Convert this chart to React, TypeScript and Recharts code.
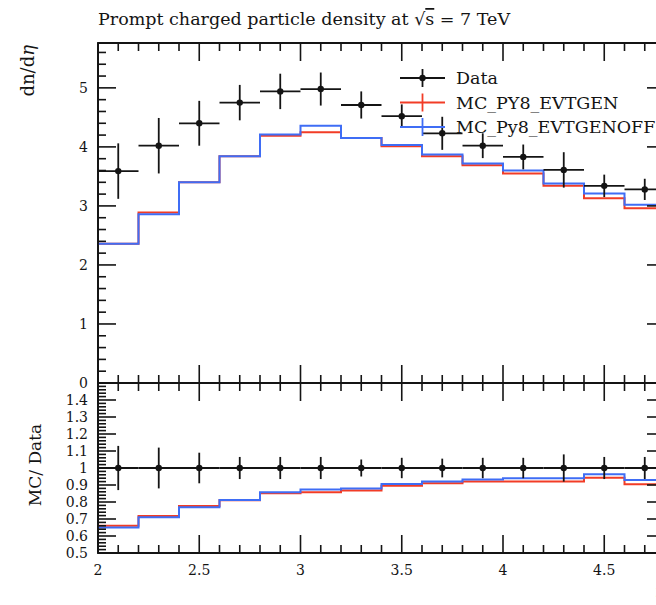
import React from "react";
import { ComposedChart, Line, Scatter, ErrorBar, XAxis, YAxis, ReferenceArea } from "recharts";

// eta binning
const binEdges = [2.0, 2.2, 2.4, 2.6, 2.8, 3.0, 3.2, 3.4, 3.6, 3.8, 4.0, 4.2, 4.4, 4.6, 4.8];
const binCentres = [2.1, 2.3, 2.5, 2.7, 2.9, 3.1, 3.3, 3.5, 3.7, 3.9, 4.1, 4.3, 4.5, 4.7];

// main panel: dn/deta
const dataValues = [3.59, 4.02, 4.4, 4.75, 4.94, 4.98, 4.71, 4.52, 4.23, 4.02, 3.83, 3.61, 3.34, 3.28];
const dataErrors = [0.47, 0.47, 0.38, 0.3, 0.3, 0.28, 0.23, 0.2, 0.28, 0.21, 0.21, 0.3, 0.19, 0.18];
const mcEvtgen = [2.36, 2.89, 3.4, 3.84, 4.19, 4.25, 4.15, 4.01, 3.84, 3.69, 3.55, 3.34, 3.13, 2.96];
const mcEvtgenOff = [2.36, 2.86, 3.4, 3.84, 4.21, 4.36, 4.15, 4.03, 3.87, 3.72, 3.6, 3.38, 3.21, 3.02];

// ratio panel: MC/Data
const ratioDataErrors = [0.13, 0.12, 0.09, 0.065, 0.065, 0.065, 0.05, 0.06, 0.055, 0.06, 0.06, 0.08, 0.065, 0.065];
const ratioEvtgen = [0.66, 0.718, 0.776, 0.81, 0.851, 0.857, 0.867, 0.896, 0.91, 0.92, 0.921, 0.921, 0.943, 0.904];
const ratioEvtgenOff = [0.65, 0.71, 0.769, 0.812, 0.857, 0.873, 0.88, 0.906, 0.921, 0.932, 0.94, 0.94, 0.963, 0.93];

// ticks
const xMajor = [2, 2.5, 3, 3.5, 4, 4.5];
const xTickLabels = ["2", "2.5", "3", "3.5", "4", "4.5"];
const yMainMajor = [0, 1, 2, 3, 4, 5];
const yMainLabels = ["0", "1", "2", "3", "4", "5"];
const yRatioMajor = [0.5, 0.6, 0.7, 0.8, 0.9, 1.0, 1.1, 1.2, 1.3, 1.4, 1.5];
const yRatioLabels = ["0.5", "0.6", "0.7", "0.8", "0.9", "1", "1.1", "1.2", "1.3", "1.4", ""];

const INK = "#141414";
const RED = "#f23c26";
const BLUE = "#3f6df5";
const FONT = "'DejaVu Serif', 'Liberation Serif', serif";

const legendItems = [
  { label: "Data", color: INK, dot: true },
  { label: "MC_PY8_EVTGEN", color: RED, dot: false },
  { label: "MC_Py8_EVTGENOFF", color: BLUE, dot: false },
];

const steps = (from: number, to: number, step: number) => {
  const out: number[] = [];
  for (let v = from; v <= to + 1e-9; v += step) out.push(Math.round(v * 1000) / 1000);
  return out;
};
const xMinor = steps(2, 4.8, 0.1);
const yMainMinor = steps(0, 5.6, 0.2);
const yRatioMinor = steps(0.5, 1.5, 0.02);

const stepRows = binEdges.map((x, i) => {
  const j = Math.min(i, mcEvtgen.length - 1);
  return { x, evtgen: mcEvtgen[j], evtgenOff: mcEvtgenOff[j] };
});
const ratioStepRows = binEdges.map((x, i) => {
  const j = Math.min(i, ratioEvtgen.length - 1);
  return { x, evtgen: ratioEvtgen[j], evtgenOff: ratioEvtgenOff[j] };
});
const dataRows = binCentres.map((x, i) => ({ x, y: dataValues[i], yErr: dataErrors[i], xErr: 0.1 }));
const ratioDataRows = binCentres.map((x, i) => ({ x, y: 1, yErr: ratioDataErrors[i], xErr: 0.1 }));

type Side = "left" | "right" | "top" | "bottom";

// inward ticks, Rivet style; labels only on major ticks
function makeTick(side: Side, major: number[], labels?: string[]) {
  return (p: any) => {
    const v = p.payload.value;
    const idx = major.findIndex((m) => Math.abs(m - v) < 1e-6);
    const len = idx >= 0 ? 18 : 8;
    const { x, y } = p;
    let line;
    if (side === "left") line = <line x1={x} x2={x + len} y1={y} y2={y} />;
    else if (side === "right") line = <line x1={x} x2={x - len} y1={y} y2={y} />;
    else if (side === "top") line = <line x1={x} x2={x} y1={y} y2={y + len} />;
    else line = <line x1={x} x2={x} y1={y} y2={y - len} />;
    const text = labels && idx >= 0 ? labels[idx] : "";
    return (
      <g stroke={INK} strokeWidth={1.6}>
        {line}
        {text && side === "left" && (
          <text x={x - 10} y={y} dy="0.35em" textAnchor="end" stroke="none" fill={INK} fontSize={14} fontFamily={FONT}>
            {text}
          </text>
        )}
        {text && side === "bottom" && (
          <text x={x} y={y + 22} textAnchor="middle" stroke="none" fill={INK} fontSize={14} fontFamily={FONT}>
            {text}
          </text>
        )}
      </g>
    );
  };
}

const axisLine = { stroke: INK, strokeWidth: 1.8 };

// frame: four axes carrying inward ticks, plus a box around the plot
function Frame({ yDomain, yTicks, yMajor, yLabels, xLabels }: any) {
  return [
    <XAxis key="xb" xAxisId="b" dataKey="x" type="number" domain={[2, 4.8]} allowDataOverflow ticks={xMinor}
      interval={0} tickSize={0} tickMargin={0} tickLine={false} height={1} axisLine={axisLine}
      tick={makeTick("bottom", xMajor, xLabels)} />,
    <XAxis key="xt" xAxisId="t" orientation="top" dataKey="x" type="number" domain={[2, 4.8]} allowDataOverflow
      ticks={xMinor} interval={0} tickSize={0} tickMargin={0} tickLine={false} height={1} axisLine={axisLine}
      tick={makeTick("top", xMajor)} />,
    <YAxis key="yl" yAxisId="l" type="number" domain={yDomain} allowDataOverflow ticks={yTicks} interval={0}
      tickSize={0} tickMargin={0} tickLine={false} width={40} axisLine={axisLine}
      tick={makeTick("left", yMajor, yLabels)} />,
    <YAxis key="yr" yAxisId="r" orientation="right" type="number" domain={yDomain} allowDataOverflow ticks={yTicks}
      interval={0} tickSize={0} tickMargin={0} tickLine={false} width={1} axisLine={axisLine}
      tick={makeTick("right", yMajor)} />,
    <ReferenceArea key="box" xAxisId="b" yAxisId="l" x1={2} x2={4.8} y1={yDomain[0]} y2={yDomain[1]}
      fill="none" fillOpacity={0} stroke={INK} strokeWidth={1.8} />,
  ];
}

const dataDot = (p: any) => <circle cx={p.cx} cy={p.cy} r={3.2} fill={INK} />;

export default function App() {
  return (
    <div style={{ position: "fixed", left: 0, top: 0, width: 656, height: 605, overflow: "hidden", background: "#fff" }}>
      <div style={{ position: "absolute", left: 0, top: 0 }}>
        <ComposedChart width={720} height={400} margin={{ top: 42, right: 54, bottom: 16, left: 58 }}>
          {Frame({ yDomain: [0, 5.76], yTicks: yMainMinor, yMajor: yMainMajor, yLabels: yMainLabels })}
          <Line xAxisId="b" yAxisId="l" data={stepRows} dataKey="evtgen" type="stepAfter" stroke={RED}
            strokeWidth={2} dot={false} isAnimationActive={false} />
          <Line xAxisId="b" yAxisId="l" data={stepRows} dataKey="evtgenOff" type="stepAfter" stroke={BLUE}
            strokeWidth={2} dot={false} isAnimationActive={false} />
          <Scatter xAxisId="b" yAxisId="l" data={dataRows} dataKey="y" shape={dataDot} isAnimationActive={false}>
            <ErrorBar dataKey="yErr" direction="y" width={0} stroke={INK} strokeWidth={1.8} />
            <ErrorBar dataKey="xErr" direction="x" width={0} stroke={INK} strokeWidth={1.8} />
          </Scatter>
        </ComposedChart>
      </div>
      <div style={{ position: "absolute", left: 0, top: 370 }}>
        <ComposedChart width={720} height={235} margin={{ top: 12, right: 54, bottom: 51, left: 58 }}>
          {Frame({ yDomain: [0.5, 1.5], yTicks: yRatioMinor, yMajor: yRatioMajor, yLabels: yRatioLabels, xLabels: xTickLabels })}
          <Line xAxisId="b" yAxisId="l" data={ratioStepRows} dataKey="evtgen" type="stepAfter" stroke={RED}
            strokeWidth={2} dot={false} isAnimationActive={false} />
          <Line xAxisId="b" yAxisId="l" data={ratioStepRows} dataKey="evtgenOff" type="stepAfter" stroke={BLUE}
            strokeWidth={2} dot={false} isAnimationActive={false} />
          <Scatter xAxisId="b" yAxisId="l" data={ratioDataRows} dataKey="y" shape={dataDot} isAnimationActive={false}>
            <ErrorBar dataKey="yErr" direction="y" width={0} stroke={INK} strokeWidth={1.8} />
            <ErrorBar dataKey="xErr" direction="x" width={0} stroke={INK} strokeWidth={1.8} />
          </Scatter>
        </ComposedChart>
      </div>
      <svg width={720} height={605} style={{ position: "absolute", left: 0, top: 0, pointerEvents: "none" }}
        fontFamily={FONT} fill={INK}>
        <text x={98} y={25} fontSize={17.5}>
          Prompt charged particle density at √<tspan style={{ textDecoration: "overline" }}>s</tspan> = 7 TeV
        </text>
        <text transform="translate(34,45) rotate(-90)" textAnchor="end" fontSize={18}>
          dn/d<tspan fontStyle="italic">η</tspan>
        </text>
        <text transform="translate(41,465) rotate(-90)" textAnchor="middle" fontSize={17}>
          MC/ Data
        </text>
        <text x={665} y={597} textAnchor="end" fontSize={17} fontStyle="italic">η</text>
        {legendItems.map((it, i) => {
          const y = 78 + i * 24.5;
          return (
            <g key={it.label}>
              <line x1={400} x2={445} y1={y} y2={y} stroke={it.color} strokeWidth={2} />
              <line x1={422.5} x2={422.5} y1={y - 9} y2={y + 9} stroke={it.color} strokeWidth={1.8} />
              {it.dot && <circle cx={422.5} cy={y} r={3.2} fill={it.color} />}
              <text x={456} y={y + 6} fontSize={17.5}>{it.label}</text>
            </g>
          );
        })}
      </svg>
    </div>
  );
}
